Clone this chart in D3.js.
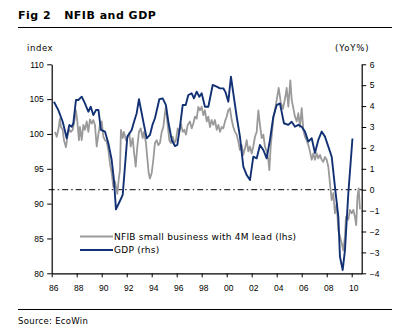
<!DOCTYPE html>
<html>
<head>
<meta charset="utf-8">
<script src="https://cdn.jsdelivr.net/npm/d3@7"></script>
<style>
  body { margin: 0; background: #fff; }
  svg { font-family: "DejaVu Sans", Verdana, sans-serif; }
  .tick text { font-size: 8.5px; fill: #000; }
</style>
</head>
<body>
<svg id="chart" width="406" height="333"></svg>
<script>
// NFIB small business index, 4M lead (decimal year, index)
const nfibYears = [1986.26,1986.40,1986.53,1986.66,1986.74,1986.88,1986.98,1987.14,1987.28,1987.41,1987.54,1987.68,1987.81,1987.94,1988.05,1988.18,1988.26,1988.40,1988.53,1988.66,1988.80,1988.93,1989.06,1989.20,1989.33,1989.46,1989.60,1989.73,1989.86,1990.00,1990.13,1990.26,1990.40,1990.53,1990.66,1990.80,1990.93,1991.06,1991.25,1991.36,1991.46,1991.54,1991.68,1991.78,1991.94,1992.05,1992.21,1992.32,1992.48,1992.58,1992.72,1992.85,1992.98,1993.12,1993.28,1993.38,1993.54,1993.65,1993.76,1993.86,1994.00,1994.13,1994.26,1994.40,1994.53,1994.66,1994.80,1994.93,1995.06,1995.14,1995.28,1995.41,1995.54,1995.68,1995.81,1995.94,1996.08,1996.21,1996.34,1996.48,1996.61,1996.74,1996.88,1997.06,1997.20,1997.33,1997.46,1997.60,1997.73,1997.86,1998.00,1998.13,1998.26,1998.40,1998.53,1998.66,1998.80,1998.93,1999.06,1999.20,1999.33,1999.46,1999.60,1999.73,1999.86,2000.00,2000.13,2000.26,2000.40,2000.53,2000.66,2000.80,2000.93,2001.06,2001.20,2001.33,2001.46,2001.60,2001.73,2001.86,2002.00,2002.13,2002.26,2002.40,2002.53,2002.66,2002.80,2002.93,2003.06,2003.20,2003.33,2003.41,2003.52,2003.62,2003.73,2003.86,2004.00,2004.16,2004.32,2004.50,2004.69,2004.80,2004.93,2005.09,2005.20,2005.33,2005.46,2005.60,2005.73,2005.86,2006.00,2006.13,2006.26,2006.40,2006.53,2006.66,2006.80,2006.93,2007.06,2007.20,2007.33,2007.46,2007.60,2007.73,2007.86,2008.00,2008.13,2008.26,2008.40,2008.53,2008.66,2008.80,2008.93,2009.06,2009.20,2009.33,2009.46,2009.54,2009.73,2009.86,2010.00,2010.13,2010.26,2010.36,2010.46,2010.56,2010.66];
const nfibValues = [100.3,99.6,100.6,102.2,101.0,100.6,99.1,98.1,99.9,100.6,100.3,100.6,101.8,103.4,101.8,99.1,101.0,99.1,101.3,100.6,101.8,100.3,102.1,101.5,102.0,101.3,98.2,99.9,101.3,101.8,99.6,99.1,98.9,97.7,95.8,94.4,92.4,93.2,91.4,93.5,94.8,100.6,99.4,100.3,99.1,99.4,100.1,98.2,99.4,97.5,95.3,98.2,100.3,100.8,99.4,100.3,98.7,96.5,94.4,93.6,94.4,96.3,98.7,99.1,98.4,98.7,100.3,101.0,103.0,103.9,101.3,99.1,98.7,99.6,98.7,99.1,100.8,100.3,101.5,100.3,100.6,99.9,101.3,101.8,100.8,101.5,102.5,102.2,103.9,103.4,103.9,102.7,103.4,101.8,102.5,101.0,102.0,101.3,102.0,100.6,101.3,100.3,101.0,100.8,101.8,102.5,103.4,103.7,102.0,101.0,100.3,99.9,98.9,97.7,98.4,97.0,97.9,99.1,97.5,98.2,97.2,98.2,99.6,100.3,103.4,101.3,99.4,99.9,98.2,97.5,96.3,94.8,98.2,100.1,102.2,103.4,104.9,106.6,104.6,103.6,105.3,106.6,103.9,107.7,104.9,103.7,102.5,101.8,103.0,101.0,103.7,100.6,99.6,99.1,98.4,97.5,96.3,97.2,96.3,97.2,96.5,97.0,96.3,96.0,96.7,96.3,95.3,92.9,90.5,91.5,88.6,90.0,86.2,85.3,84.3,83.3,85.3,88.1,87.7,89.1,88.6,89.1,88.1,86.9,91.0,92.2,89.2];

// GDP YoY % (decimal year, %)
const gdpYears = [1986.18,1986.53,1986.88,1987.20,1987.41,1987.60,1987.73,1987.94,1988.13,1988.40,1988.66,1988.93,1989.12,1989.33,1989.54,1989.74,1989.94,1990.26,1990.53,1990.80,1990.98,1991.14,1991.42,1991.68,1992.05,1992.40,1992.58,1992.80,1992.98,1993.20,1993.38,1993.60,1993.86,1994.06,1994.26,1994.61,1994.88,1995.14,1995.33,1995.60,1995.86,1996.05,1996.26,1996.48,1996.72,1996.93,1997.20,1997.38,1997.60,1997.81,1998.00,1998.26,1998.53,1998.88,1999.20,1999.46,1999.73,1999.90,2000.13,2000.34,2000.53,2000.80,2001.06,2001.33,2001.60,2001.86,2002.13,2002.40,2002.66,2002.93,2003.20,2003.46,2003.73,2004.00,2004.26,2004.58,2004.93,2005.20,2005.46,2005.73,2006.00,2006.26,2006.53,2006.80,2007.06,2007.33,2007.60,2007.86,2008.13,2008.40,2008.66,2008.93,2009.06,2009.28,2009.46,2009.73,2010.06];
const gdpValues = [4.21,3.81,3.25,2.46,3.10,3.01,3.18,4.29,4.29,4.45,4.13,3.73,3.97,3.57,3.81,3.81,2.86,2.78,2.22,1.42,0.46,-0.94,-0.59,-0.25,2.54,2.86,3.24,3.66,4.33,3.66,3.10,2.46,2.62,3.10,3.42,4.33,4.37,4.05,3.25,2.38,2.09,2.14,3.01,4.05,4.05,4.53,4.61,4.37,4.69,4.45,4.61,3.97,3.97,5.01,4.93,4.85,4.85,4.67,4.21,5.41,4.61,3.49,2.54,1.10,0.70,0.46,1.58,1.50,2.14,1.90,1.50,2.38,3.49,4.05,4.13,3.18,3.10,3.25,3.01,3.10,3.01,2.78,2.30,2.46,1.76,2.38,2.78,2.54,2.06,1.58,0.14,-1.29,-3.21,-3.84,-2.89,-0.17,2.45];

const yearTicks = d3.range(1986, 2011, 2);
const leftTicks = [80, 85, 90, 95, 100, 105, 110];
const rightTicks = [-4, -3, -2, -1, 0, 1, 2, 3, 4, 5, 6];

const svg = d3.select('#chart');
const plot = {left: 51.7, right: 361.7, top: 64.3, bottom: 273.3};

const x = d3.scaleLinear().domain([1986, 2010.8]).range([plot.left, plot.right]);
const yL = d3.scaleLinear().domain([80, 110]).range([plot.bottom, plot.top]);
const yR = d3.scaleLinear().domain([-4, 6]).range([plot.bottom, plot.top]);

/*********** Title and frame lines ***********/
svg.append('text')
  .attr('x', 18).attr('y', 18.5)
  .style('font-size', '11px').style('font-weight', 'bold')
  .style('letter-spacing', '0.5px')
  .attr('xml:space', 'preserve')
  .text('Fig 2   NFIB and GDP');

svg.append('line')
  .attr('x1', 18).attr('x2', 392).attr('y1', 27.5).attr('y2', 27.5)
  .attr('stroke', '#000').attr('stroke-width', 1);

svg.append('line')
  .attr('x1', 18).attr('x2', 392).attr('y1', 309.5).attr('y2', 309.5)
  .attr('stroke', '#000').attr('stroke-width', 1);

svg.append('text')
  .attr('x', 18).attr('y', 324)
  .style('font-size', '8.5px').style('letter-spacing', '0.3px')
  .text('Source: EcoWin');

svg.append('text')
  .attr('x', 27).attr('y', 50.5)
  .style('font-size', '8.5px').style('letter-spacing', '0.6px')
  .text('index');

svg.append('text')
  .attr('x', 335).attr('y', 51)
  .style('font-size', '8.5px').style('letter-spacing', '0.9px')
  .text('(YoY%)');

/*********** Axes ***********/
const gx = svg.append('g')
  .attr('transform', `translate(0,${plot.bottom})`)
  .call(d3.axisBottom(x).tickValues(yearTicks).tickSize(4).tickSizeOuter(0)
    .tickFormat(d => String(d % 100).padStart(2, '0')));
gx.selectAll('.tick text').attr('dy', '1.25em').attr('dx', '1.5');

const gl = svg.append('g')
  .attr('transform', `translate(${plot.left},0)`)
  .call(d3.axisLeft(yL).tickValues(leftTicks).tickSize(4.5).tickSizeOuter(0));
gl.selectAll('.tick text').attr('x', -8);

const gr = svg.append('g')
  .attr('transform', `translate(${plot.right},0)`)
  .call(d3.axisRight(yR).tickValues(rightTicks).tickSize(4.5).tickSizeOuter(0));
gr.selectAll('.tick text').attr('x', 8);

svg.selectAll('.domain, .tick line').attr('stroke', '#000');
svg.selectAll('.domain').attr('stroke-width', 1.2);

/*********** Zero line (rhs) ***********/
svg.append('line')
  .attr('x1', plot.left - 3).attr('x2', plot.right)
  .attr('y1', yR(0)).attr('y2', yR(0))
  .attr('stroke', '#000').attr('stroke-width', 1)
  .attr('stroke-dasharray', '6,3,1.5,3');

/*********** Series ***********/
const nfib = nfibYears.map((d, i) => [d, nfibValues[i]]);
const gdp = gdpYears.map((d, i) => [d, gdpValues[i]]);

svg.append('path')
  .datum(nfib)
  .attr('d', d3.line().x(d => x(d[0])).y(d => yL(d[1])))
  .attr('fill', 'none')
  .attr('stroke', '#9a9a9a')
  .attr('stroke-width', 1.8)
  .attr('stroke-linejoin', 'round');

svg.append('path')
  .datum(gdp)
  .attr('d', d3.line().x(d => x(d[0])).y(d => yR(d[1])))
  .attr('fill', 'none')
  .attr('stroke', '#123174')
  .attr('stroke-width', 1.9)
  .attr('stroke-linejoin', 'round');

/*********** Legend ***********/
const legend = [
  {label: 'NFIB small business with 4M lead (lhs)', color: '#9a9a9a', y: 236.5},
  {label: 'GDP (rhs)', color: '#123174', y: 250}
];
legend.forEach(l => {
  svg.append('line')
    .attr('x1', 80).attr('x2', 113).attr('y1', l.y).attr('y2', l.y)
    .attr('stroke', l.color).attr('stroke-width', 2);
  svg.append('text')
    .attr('x', 114).attr('y', l.y + 3.2)
    .style('font-size', '9px').style('letter-spacing', '0.25px')
    .text(l.label);
});
</script>
</body>
</html>
